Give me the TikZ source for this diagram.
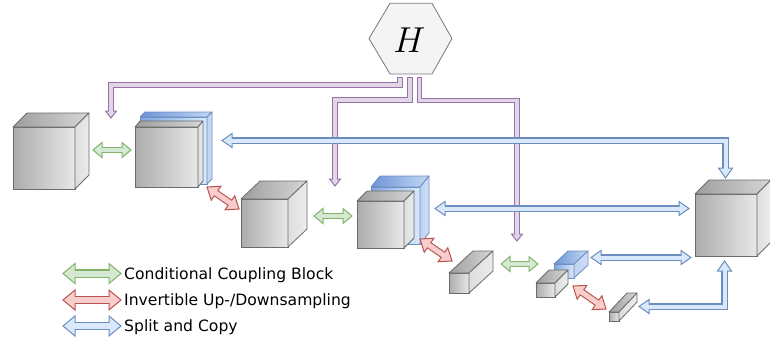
\documentclass[tikz,border=0pt]{standalone}
\usepackage{fontspec}
\newfontfamily\legendfont{DejaVu Sans}
\usetikzlibrary{calc}
\definecolor{pS}{HTML}{9673A6}\definecolor{pF}{HTML}{E1D5E7}
\definecolor{bS}{HTML}{6C8EBF}\definecolor{bF}{HTML}{DAE8FC}
\definecolor{gS}{HTML}{82B366}\definecolor{gF}{HTML}{D5E8D4}
\definecolor{rS}{HTML}{B85450}\definecolor{rF}{HTML}{F8CECC}
\definecolor{cubeS}{HTML}{6B6B6B}
\definecolor{blueS}{HTML}{6C8EBF}
\tikzset{
  greyfront/.style={draw=cubeS, line width=0.8pt, left color={rgb,255:red,172;green,172;blue,172}, right color={rgb,255:red,232;green,232;blue,232}, anchor=north west, inner sep=0pt, outer sep=0pt},
  greytop/.style={draw=cubeS, line width=0.8pt, line join=round, left color={rgb,255:red,158;green,158;blue,158}, right color={rgb,255:red,214;green,214;blue,214}},
  greyside/.style={draw=cubeS, line width=0.8pt, line join=round, left color={rgb,255:red,222;green,222;blue,222}, right color={rgb,255:red,236;green,236;blue,236}},
  bluefront/.style={draw=blueS, line width=0.8pt, left color={rgb,255:red,126;green,166;blue,224}, right color={rgb,255:red,218;green,232;blue,252}, anchor=north west, inner sep=0pt, outer sep=0pt},
  bluetop/.style={draw=blueS, line width=0.8pt, line join=round, left color={rgb,255:red,108;green,148;blue,212}, right color={rgb,255:red,196;green,216;blue,245}},
  blueside/.style={draw=blueS, line width=0.8pt, line join=round, left color={rgb,255:red,190;green,210;blue,242}, right color={rgb,255:red,206;green,222;blue,248}},
  hexstyle/.style={draw={rgb,255:red,120;green,120;blue,120}, fill={rgb,255:red,244;green,244;blue,244}, line width=0.8pt},
  legtext/.style={anchor=base west, inner sep=0pt, font=\legendfont\fontsize{15.6}{18}\selectfont},
}
% cube: style prefix, name, x, y, w, h, dx, dy
\newcommand\cubebox[8]{%
  \node[#1front, minimum width=#5pt, minimum height=#6pt] (#2) at (#3,#4) {};
  \draw[#1top] (#2.north west) -- ++(#7,-#8) -- ++(#5,0) -- (#2.north east) -- cycle;
  \draw[#1side] (#2.north east) -- ++(#7,-#8) -- ++(0,#6) -- (#2.south east) -- cycle;}
% arrow head: prefix, tip, toward, half width, length
\newcommand\flexhead[5]{%
  \filldraw[draw=#1S, fill=#1F, line width=1pt, line join=miter]
    (#2) -- ($(#2)!#5pt!(#3)!#4pt!90:(#3)$) -- ($(#2)!#5pt!(#3)!#4pt!-90:(#3)$) -- cycle;}
% straight double arrow: prefix, A, B, W, HW, HL
\newcommand\dflex[6]{%
  \pgfmathsetmacro\fOW{#4+2.2}%
  \draw[#1S, line width=\fOW pt] ($(#2)!#6pt!(#3)$) -- ($(#3)!#6pt!(#2)$);
  \flexhead{#1}{#2}{#3}{#5}{#6}
  \flexhead{#1}{#3}{#2}{#5}{#6}
  \draw[#1F, line width=#4pt] ($(#2)!#6pt-1.3pt!(#3)$) -- ($(#3)!#6pt-1.3pt!(#2)$);}
% L-shaped double arrow: prefix, A, corner, B, W, HW, HL
\newcommand\ldflex[7]{%
  \pgfmathsetmacro\fOW{#5+2.2}%
  \draw[#1S, line width=\fOW pt, line join=miter] ($(#2)!#7pt!(#3)$) -- (#3) -- ($(#4)!#7pt!(#3)$);
  \flexhead{#1}{#2}{#3}{#6}{#7}
  \flexhead{#1}{#4}{#3}{#6}{#7}
  \draw[#1F, line width=#5pt, line join=miter] ($(#2)!#7pt-1.3pt!(#3)$) -- (#3) -- ($(#4)!#7pt-1.3pt!(#3)$);}
% purple arrow: start, corner1, corner2, tip
\newcommand\pflex[4]{%
  \draw[pS, line width=5.2pt, line join=miter] (#1) -- (#2) -- (#3) -- ($(#4)!7pt!(#3)$);
  \flexhead{p}{#4}{#3}{5.5}{7}
  \draw[pF, line width=3.2pt, line join=miter] ($(#1)!1pt!(#2)$) -- (#2) -- (#3) -- ($(#4)!5.7pt!(#3)$);}
\begin{document}
\begin{tikzpicture}[x=1pt, y=-1pt]
\useasboundingbox (0,0) rectangle (770,346);
% cubes
\cubebox{grey}{c1}{13}{127}{62}{62}{14}{14}
\cubebox{blue}{c2b}{140}{117}{67}{67}{5}{5}
\cubebox{grey}{c2}{135}{127}{63}{60}{5}{6}
\cubebox{grey}{c3}{241}{199}{47}{48}{19}{18}
\cubebox{blue}{c4b}{371}{187}{49}{57}{9}{11}
\cubebox{grey}{c4}{357}{201}{47}{47}{10}{10}
\cubebox{grey}{c5}{695}{194}{62}{62}{14}{14}
\cubebox{grey}{c6}{449}{273}{20}{20}{24}{22}
\cubebox{blue}{c7b}{554}{264}{20}{14}{14}{13}
\cubebox{grey}{c7}{536}{283}{19}{14}{13}{13}
\cubebox{grey}{c8}{609}{312}{10}{9}{18}{19}
% hexagon
\draw[hexstyle] (369,38.5) -- (390,3.3) -- (432,3.3) -- (452,38.5) -- (432,74) -- (390,74) -- cycle;
\node[inner sep=0pt, scale=1.45] (H) at (409.5,40) {\Huge$H$};
% purple arrows
\coordinate (p1s) at (400,77); \coordinate (p1a) at (400,85); \coordinate (p1b) at (111,85); \coordinate (p1t) at (111,118);
\coordinate (p2s) at (410,77); \coordinate (p2a) at (410,100); \coordinate (p2b) at (335,100); \coordinate (p2t) at (335,186);
\coordinate (p3s) at (419.5,77); \coordinate (p3a) at (419.5,100.5); \coordinate (p3b) at (517,100.5); \coordinate (p3t) at (517,241);
\pflex{p1s}{p1a}{p1b}{p1t}
\pflex{p2s}{p2a}{p2b}{p2t}
\pflex{p3s}{p3a}{p3b}{p3t}
% blue arrows
\coordinate (bA1) at (222,140.5); \coordinate (bAc) at (725.5,140.5); \coordinate (bA2) at (725.5,178);
\ldflex{b}{bA1}{bAc}{bA2}{4}{7}{10}
\coordinate (bB1) at (435,208.5); \coordinate (bB2) at (689,208.5);
\dflex{b}{bB1}{bB2}{4}{7}{10}
\coordinate (bC1) at (591,257.5); \coordinate (bC2) at (691,257.5);
\dflex{b}{bC1}{bC2}{4}{7}{10}
\coordinate (bD1) at (639,306.5); \coordinate (bDc) at (724.5,306.5); \coordinate (bD2) at (724.5,261);
\ldflex{b}{bD1}{bDc}{bD2}{4}{7}{10}
% green arrows
\coordinate (g1a) at (93,150); \coordinate (g1b) at (131,150);
\dflex{g}{g1a}{g1b}{4.2}{7.5}{9}
\coordinate (g2a) at (314,216); \coordinate (g2b) at (352,216);
\dflex{g}{g2a}{g2b}{4.2}{7.5}{9}
\coordinate (g3a) at (501,264); \coordinate (g3b) at (538,264);
\dflex{g}{g3a}{g3b}{4.2}{7.5}{9}
% red arrows
\coordinate (r1a) at (207,187); \coordinate (r1b) at (239,209);
\dflex{r}{r1a}{r1b}{5}{8.5}{11}
\coordinate (r2a) at (420,239); \coordinate (r2b) at (452,261);
\dflex{r}{r2a}{r2b}{5}{8.5}{11}
\coordinate (r3a) at (573,286); \coordinate (r3b) at (606,309);
\dflex{r}{r3a}{r3b}{5}{8.5}{11}
% legend
\coordinate (lg1) at (63,273.5); \coordinate (lg2) at (121,273.5);
\dflex{g}{lg1}{lg2}{6}{10}{12}
\coordinate (lr1) at (63,300); \coordinate (lr2) at (121,300);
\dflex{r}{lr1}{lr2}{6}{10}{12}
\coordinate (lb1) at (63,326); \coordinate (lb2) at (121,326);
\dflex{b}{lb1}{lb2}{6}{10}{12}
\node[legtext] (t1) at (124,279) {Conditional Coupling Block};
\node[legtext] (t2) at (124,305.5) {Invertible Up-/Downsampling};
\node[legtext] (t3) at (124,331.5) {Split and Copy};
\end{tikzpicture}
\end{document}
